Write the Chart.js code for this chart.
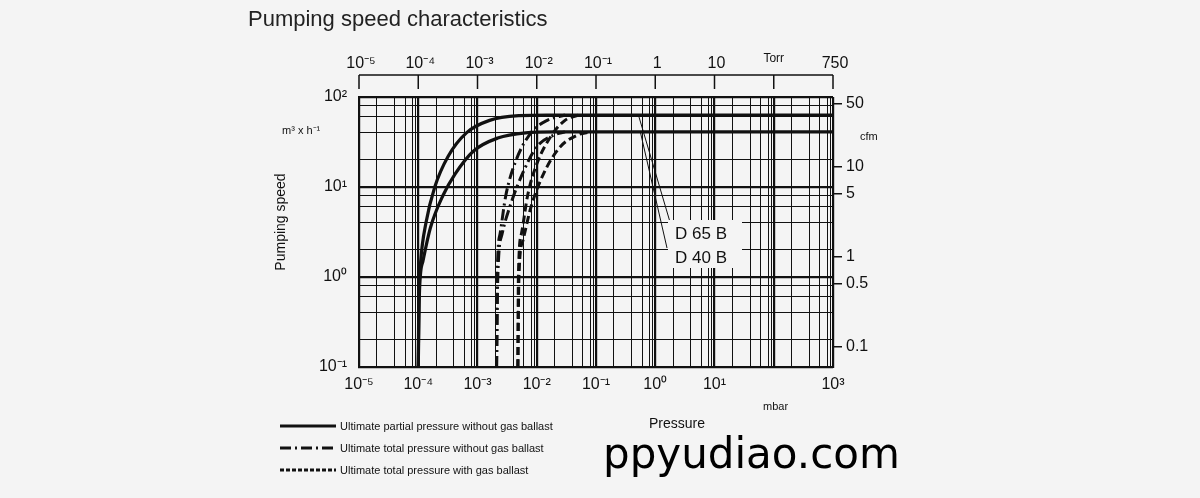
<!DOCTYPE html>
<html>
<head>
<meta charset="utf-8">
<script src="https://cdn.jsdelivr.net/npm/chart.js@4/dist/chart.umd.min.js"></script>
<style>
  body { margin: 0; background: #f4f4f4; }
  canvas { display: block; }
</style>
</head>
<body>
<canvas id="c" width="1200" height="498"></canvas>
<script>
// Data (pressure in mbar, speed in m3/h)
const d65SolidP = [1e-4, 1.02e-4, 1.1e-4, 1.35e-4, 1.9e-4, 3.2e-4, 6.5e-4, 1.6e-3, 5e-3, 1.5e-2, 1e3];
const d65SolidS = [0.1, 0.5, 1.5, 4, 10, 22, 40, 55, 62, 63, 63];
const d40SolidP = [1e-4, 1.05e-4, 1.2e-4, 1.6e-4, 2.6e-4, 4.2e-4, 8.5e-4, 2.2e-3, 6.5e-3, 2e-2, 1e3];
const d40SolidS = [0.1, 0.7, 1.5, 3.5, 8, 14, 25, 35, 40, 41, 41];
const d65DashDotP = [2.1e-3, 2.15e-3, 2.4e-3, 3e-3, 4.5e-3, 8e-3, 1.5e-2, 3e-2];
const d65DashDotS = [0.1, 1, 3, 8, 20, 40, 55, 63];
const d40DashDotP = [2.1e-3, 2.2e-3, 2.6e-3, 3.5e-3, 6e-3, 1e-2, 2e-2, 3e-2];
const d40DashDotS = [0.1, 1, 3, 6, 15, 28, 38, 41];
const d65DashP = [4.8e-3, 4.9e-3, 5.5e-3, 7e-3, 1e-2, 1.8e-2, 3e-2, 5e-2];
const d65DashS = [0.1, 1, 3, 8, 18, 38, 55, 63];
const d40DashP = [4.8e-3, 5e-3, 5.8e-3, 8e-3, 1.3e-2, 2.5e-2, 5e-2, 8e-2];
const d40DashS = [0.1, 1, 2.5, 6, 14, 28, 38, 41];

const cfmTicks = [0.1, 0.5, 1, 5, 10, 50];
const torrLabels = ['10⁻⁵', '10⁻⁴', '10⁻³', '10⁻²', '10⁻¹', '1', '10', '', '750'];
const xMinor = [2, 4, 6, 8, 9];
const yMinor = [2, 4, 6, 8];
const legendLabels = [
    'Ultimate partial pressure without gas ballast',
    'Ultimate total pressure without gas ballast',
    'Ultimate total pressure with gas ballast'
];

const M3H_TO_CFM = 0.5886;
const SUP = { '-': '⁻', '0': '⁰', '1': '¹', '2': '²', '3': '³', '4': '⁴', '5': '⁵' };

const ink = '#111';
const pts = (p, s) => p.map((v, i) => ({ x: v, y: s[i] }));
const dashDot = [11, 4, 2, 4];
const dashed = [8, 4];

function logTicks(lo, hi, minor) {
    const t = [];
    for (let e = lo; e < hi; e++) {
        [1].concat(minor).forEach(m => t.push({ value: m * Math.pow(10, e) }));
    }
    t.push({ value: Math.pow(10, hi) });
    return t;
}
const isDecade = v => Math.abs(Math.log10(v) - Math.round(Math.log10(v))) < 1e-6;
const powLabel = v => '10' + String(Math.round(Math.log10(v))).split('').map(c => SUP[c]).join('');

function line(ctx, x1, y1, x2, y2, w, dash) {
    ctx.save();
    ctx.strokeStyle = ink;
    ctx.lineWidth = w;
    ctx.setLineDash(dash || []);
    ctx.beginPath();
    ctx.moveTo(x1, y1);
    ctx.lineTo(x2, y2);
    ctx.stroke();
    ctx.restore();
}

const extras = {
    id: 'extras',
    beforeDraw(chart) {
        const ctx = chart.ctx;
        ctx.save();
        ctx.fillStyle = '#f4f4f4';
        ctx.fillRect(0, 0, chart.width, chart.height);
        ctx.restore();
    },
    afterDraw(chart) {
        const ctx = chart.ctx;
        const x = chart.scales.x, y = chart.scales.y;
        const a = chart.chartArea;
        ctx.save();
        ctx.fillStyle = ink;
        ctx.textBaseline = 'alphabetic';

        // title
        ctx.font = '22px "Liberation Sans", Arial, sans-serif';
        ctx.fillStyle = '#222';
        ctx.fillText('Pumping speed characteristics', 248, 26);
        ctx.fillStyle = ink;

        // Torr axis on top (evenly spaced, as in the original sheet)
        const ty = 75;
        line(ctx, a.left, ty, a.right, ty, 1.5);
        ctx.textAlign = 'center';
        ctx.font = '16px "Liberation Sans", Arial, sans-serif';
        torrLabels.forEach((t, i) => {
            const px = a.left + (a.right - a.left) * i / (torrLabels.length - 1);
            line(ctx, px, ty, px, ty + 14, 1.5);
            ctx.fillText(t, px + 2, 68);
            if (i === 7) {
                ctx.font = '12px "Liberation Sans", Arial, sans-serif';
                ctx.fillText('Torr', px, 62);
                ctx.font = '16px "Liberation Sans", Arial, sans-serif';
            }
        });

        // axis texts
        ctx.font = '11px "Liberation Sans", Arial, sans-serif';
        ctx.textAlign = 'left';
        ctx.fillText('m³ x h⁻¹', 282, 134);
        ctx.fillText('cfm', 860, 140);
        ctx.fillText('mbar', 763, 410);
        ctx.font = '14px "Liberation Sans", Arial, sans-serif';
        ctx.textAlign = 'center';
        ctx.fillText('Pressure', 677, 428);
        ctx.save();
        ctx.translate(285, 222);
        ctx.rotate(-Math.PI / 2);
        ctx.fillText('Pumping speed', 0, 0);
        ctx.restore();

        // model labels with leader lines
        const p1x = x.getPixelForValue(0.52), p1y = y.getPixelForValue(63);
        const p2x = x.getPixelForValue(0.56), p2y = y.getPixelForValue(41);
        line(ctx, p1x, p1y, 670, 222, 1);
        line(ctx, p2x, p2y, 667, 248, 1);
        ctx.fillStyle = '#f4f4f4';
        ctx.fillRect(668, 220, 74, 48);
        ctx.fillStyle = ink;
        ctx.font = '17px "Liberation Sans", Arial, sans-serif';
        ctx.textAlign = 'left';
        ctx.fillText('D 65 B', 675, 239);
        ctx.fillText('D 40 B', 675, 263);

        // legend
        const styles = [[], dashDot, [4, 2]];
        ctx.font = '11px "Liberation Sans", Arial, sans-serif';
        legendLabels.forEach((lbl, i) => {
            const ly = 426 + i * 22;
            line(ctx, 280, ly, 336, ly, 3, styles[i]);
            ctx.fillText(lbl, 340, ly + 4);
        });

        // watermark
        ctx.font = '42px "DejaVu Sans", sans-serif';
        ctx.fillStyle = '#000';
        ctx.fillText('ppyudiao.com', 603, 468);
        ctx.restore();
    }
};

const gridWidth = c => (c.tick && isDecade(c.tick.value) ? 2.2 : 1);

new Chart(document.getElementById('c'), {
    type: 'line',
    data: {
        datasets: [
            { data: pts(d65SolidP, d65SolidS), borderWidth: 3.2 },
            { data: pts(d40SolidP, d40SolidS), borderWidth: 3.2 },
            { data: pts(d65DashDotP, d65DashDotS), borderWidth: 3, borderDash: dashDot },
            { data: pts(d40DashDotP, d40DashDotS), borderWidth: 3, borderDash: dashDot },
            { data: pts(d65DashP, d65DashS), borderWidth: 3, borderDash: dashed },
            { data: pts(d40DashP, d40DashS), borderWidth: 3, borderDash: dashed }
        ].map(d => Object.assign(d, { borderColor: ink, pointRadius: 0, tension: 0.4, cubicInterpolationMode: 'monotone', fill: false }))
    },
    options: {
        responsive: false,
        animation: false,
        layout: { padding: { top: 97, left: 0, right: 0, bottom: 0 } },
        plugins: { legend: { display: false }, tooltip: { enabled: false } },
        scales: {
            x: {
                type: 'logarithmic', min: 1e-5, max: 1e3,
                afterBuildTicks: s => { s.ticks = logTicks(-5, 3, xMinor); },
                afterFit: s => { s.height = 131; },
                grid: { color: ink, lineWidth: gridWidth, drawTicks: false },
                border: { color: ink, width: 2 },
                ticks: {
                    autoSkip: false, maxRotation: 0, padding: 8, color: ink,
                    font: { size: 16, family: '"Liberation Sans", Arial, sans-serif' },
                    callback: v => (isDecade(v) && Math.round(Math.log10(v)) !== 2 ? powLabel(v) : '')
                }
            },
            y: {
                type: 'logarithmic', min: 0.1, max: 100,
                afterBuildTicks: s => { s.ticks = logTicks(-1, 2, yMinor); },
                afterFit: s => { s.width = 359; },
                grid: { color: ink, lineWidth: gridWidth, drawTicks: false },
                border: { color: ink, width: 2 },
                ticks: {
                    autoSkip: false, padding: 12, color: ink,
                    font: { size: 16, family: '"Liberation Sans", Arial, sans-serif' },
                    callback: v => (isDecade(v) ? powLabel(v) : '')
                }
            },
            y2: {
                type: 'logarithmic', position: 'right',
                min: 0.1 * M3H_TO_CFM, max: 100 * M3H_TO_CFM,
                afterBuildTicks: s => { s.ticks = cfmTicks.map(v => ({ value: v })); },
                afterFit: s => { s.width = 367; },
                grid: { drawOnChartArea: false, color: ink, lineWidth: 1.5, tickLength: 9 },
                border: { display: false },
                ticks: {
                    autoSkip: false, padding: 4, color: ink,
                    font: { size: 16, family: '"Liberation Sans", Arial, sans-serif' },
                    callback: v => String(v)
                }
            }
        }
    },
    plugins: [extras]
});
</script>
</body>
</html>
